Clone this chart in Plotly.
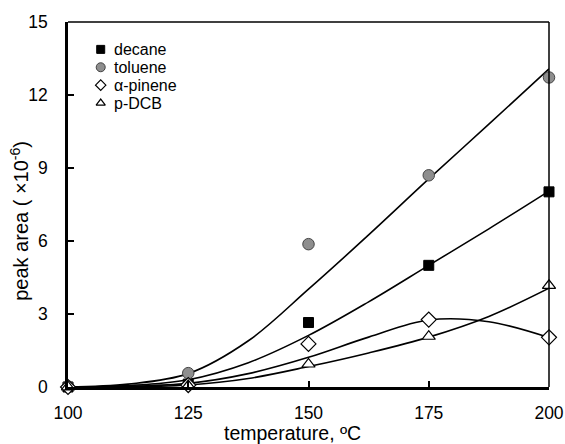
import plotly.graph_objects as go

# measured points
temps = [100, 125, 150, 175, 200]
decane = [0.0, 0.12, 2.65, 5.0, 8.02]
toluene = [0.02, 0.57, 5.87, 8.7, 12.72]
pinene = [0.0, 0.08, 1.77, 2.77, 2.04]
pdcb = [0.0, 0.05, 0.94, 2.08, 4.17]

# model / trend curves
fit_temps = [100, 112.5, 125, 137.5, 150, 162.5, 175, 187.5, 200]
decane_fit = [0.0, 0.06, 0.3, 1.0, 2.12, 3.5, 5.0, 6.5, 8.05]
toluene_fit = [0.0, 0.12, 0.55, 1.9, 4.02, 6.25, 8.55, 10.8, 13.07]
pinene_fit = [0.0, 0.03, 0.15, 0.55, 1.22, 2.05, 2.75, 2.68, 2.03]
pdcb_fit = [0.0, 0.01, 0.08, 0.35, 0.84, 1.4, 2.05, 2.9, 4.06]

x_ticks = [100, 125, 150, 175, 200]
y_ticks = [0, 3, 6, 9, 12, 15]

series_names = ["decane", "toluene", "α-pinene", "p-DCB"]

fig = go.Figure()

for yf in [toluene_fit, decane_fit, pinene_fit, pdcb_fit]:
    fig.add_trace(go.Scatter(x=fit_temps, y=yf, mode="lines",
                             line=dict(color="black", width=1.6, shape="spline", smoothing=1.0),
                             showlegend=False, hoverinfo="skip", cliponaxis=False))

styles = [
    dict(symbol="square", size=10, color="black", line=dict(color="black", width=1)),
    dict(symbol="circle", size=11.5, color="#8e8e8e", line=dict(color="#444444", width=1)),
    dict(symbol="diamond", size=11.5, color="white", line=dict(color="black", width=1.2)),
    dict(symbol="triangle-up", size=11.5, color="white", line=dict(color="black", width=1.2)),
]
legend_sizes = [8, 9, 8, 8]

for name, ys, st in zip(series_names, [decane, toluene, pinene, pdcb], styles):
    fig.add_trace(go.Scatter(x=temps, y=ys, mode="markers", name=name,
                             marker=st, showlegend=False, cliponaxis=False))

font_family = "Liberation Sans, Arial, sans-serif"

# custom legend (symbols on an overlay axis spanning the plot area, labels as annotations)
leg_x_sym = 0.068
leg_x_txt = 0.092
leg_rows = [0.925, 0.876, 0.827, 0.778]
for name, st, sz, yy in zip(series_names, styles, legend_sizes, leg_rows):
    mk = dict(st)
    mk["size"] = sz
    fig.add_trace(go.Scatter(x=[leg_x_sym], y=[yy], mode="markers", name=name,
                             marker=mk, showlegend=False, xaxis="x2", yaxis="y2",
                             hoverinfo="skip", cliponaxis=False))
    fig.add_annotation(x=leg_x_txt, y=yy, xref="paper", yref="paper", text=name,
                       showarrow=False, xanchor="left", yanchor="middle",
                       font=dict(size=16, family=font_family, color="black"))

# axis titles
fig.add_annotation(x=0.466, y=-0.126, xref="paper", yref="paper",
                   text="temperature, ºC", showarrow=False, xanchor="center", yanchor="middle",
                   font=dict(size=19.5, family=font_family, color="black"))
fig.add_annotation(x=-0.10, y=0.455, xref="paper", yref="paper",
                   text="peak area (\u00a0×10<sup>-6</sup>)", textangle=-90, showarrow=False,
                   xanchor="center", yanchor="middle",
                   font=dict(size=20, family=font_family, color="black"))

fig.update_layout(
    width=565, height=444,
    margin=dict(l=68, r=16, t=22, b=57),
    paper_bgcolor="white", plot_bgcolor="white",
    font=dict(family=font_family, size=18, color="black"),
    showlegend=False,
    xaxis=dict(range=[100, 200], tickvals=x_ticks, ticks="inside", ticklen=6,
               tickwidth=1.5, tickcolor="black", showline=True, linecolor="black",
               linewidth=2.5, showgrid=False, zeroline=False, ticklabelstandoff=8,
               tickfont=dict(size=17.5), automargin=False),
    yaxis=dict(range=[0, 15], tickvals=y_ticks, ticks="inside", ticklen=6,
               tickwidth=1.5, tickcolor="black", showline=True, linecolor="black",
               linewidth=2.5, showgrid=False, zeroline=False, ticklabelstandoff=14,
               tickfont=dict(size=17.5), automargin=False),
    xaxis2=dict(range=[0, 1], overlaying="x", visible=False, fixedrange=True),
    yaxis2=dict(range=[0, 1], overlaying="y", visible=False, fixedrange=True),
)

fig.add_shape(type="line", xref="paper", yref="paper", x0=0, x1=1, y0=1, y1=1,
              line=dict(color="black", width=1.5))
fig.add_shape(type="line", xref="paper", yref="paper", x0=1, x1=1, y0=0, y1=1,
              line=dict(color="black", width=1.5))

fig.write_html("out.html")
